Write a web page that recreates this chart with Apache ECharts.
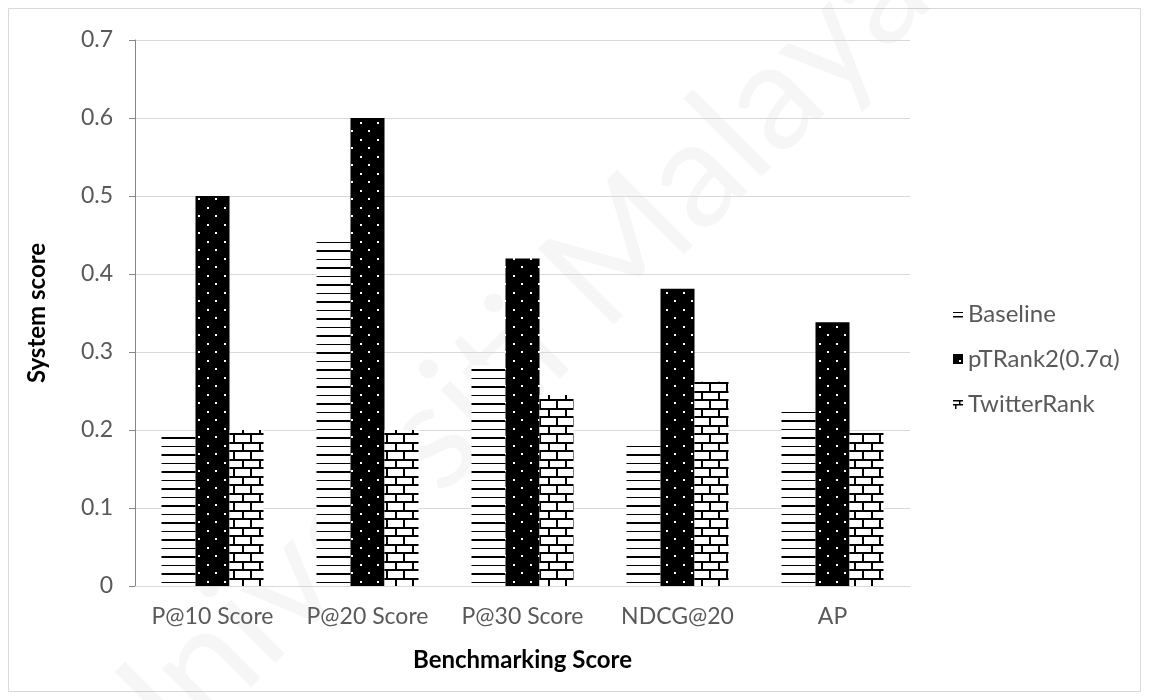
<!DOCTYPE html>
<html>
<head>
<meta charset="utf-8">
<script src="https://cdn.jsdelivr.net/npm/echarts@6/dist/echarts.min.js"></script>
<style>
  html, body { margin: 0; padding: 0; background: #ffffff; }
  #chart { width: 1149px; height: 700px; }
</style>
</head>
<body>
<div id="chart"></div>
<script>
// Benchmark categories and system scores per ranking method
const categories = ['P@10 Score', 'P@20 Score', 'P@30 Score', 'NDCG@20', 'AP'];
const baseline = [0.197, 0.445, 0.283, 0.184, 0.227];
const ptrank = [0.5, 0.6, 0.42, 0.381, 0.338];
const twitterRank = [0.2, 0.2, 0.245, 0.262, 0.196];
const seriesNames = ['Baseline', 'pTRank2(0.7\u03b1)', 'TwitterRank'];
const yTicks = { min: 0, max: 0.7, step: 0.1 };

// Small canvas tiles used as repeating fill patterns
function tile(w, h, draw) {
  const c = document.createElement('canvas');
  c.width = w; c.height = h;
  const g = c.getContext('2d');
  draw(g);
  return c;
}
// horizontal stripes, alternating thin and thick
const stripes = tile(8, 17, g => {
  g.fillStyle = '#ffffff'; g.fillRect(0, 0, 8, 17);
  g.fillStyle = '#000000';
  g.fillRect(0, 4, 8, 1);
  g.fillRect(0, 12, 8, 2);
});
// black with staggered white dots
const dots = tile(17, 17, g => {
  g.fillStyle = '#000000'; g.fillRect(0, 0, 17, 17);
  g.fillStyle = '#ffffff';
  g.fillRect(3, 3, 2, 2);
  g.fillRect(11, 11, 2, 2);
});
// brick wall
const bricks = tile(17, 17, g => {
  g.fillStyle = '#ffffff'; g.fillRect(0, 0, 17, 17);
  g.fillStyle = '#000000';
  g.fillRect(0, 0, 17, 2);
  g.fillRect(0, 8, 17, 2);
  g.fillRect(4, 0, 2, 8);
  g.fillRect(12, 8, 2, 9);
});

// Legend swatches: small fragments of each fill
const iconStripes = tile(10, 10, g => {
  g.fillStyle = '#ffffff'; g.fillRect(0, 0, 10, 10);
  g.fillStyle = '#000000';
  g.fillRect(0, 3, 10, 1);
  g.fillRect(0, 7, 10, 1.5);
});
const iconDots = tile(10, 10, g => {
  g.fillStyle = '#000000'; g.fillRect(0, 0, 10, 10);
  g.fillStyle = '#ffffff';
  g.fillRect(6, 6, 2, 2);
});
const iconBricks = tile(10, 10, g => {
  g.fillStyle = '#ffffff'; g.fillRect(0, 0, 10, 10);
  g.fillStyle = '#000000';
  g.fillRect(0, 1, 10, 1.5);
  g.fillRect(6, 1, 1.5, 4);
  g.fillRect(0, 5, 10, 1.5);
  g.fillRect(2, 5, 1.5, 5);
});
const icon = c => 'image://' + c.toDataURL();

const pattern = c => ({ image: c, repeat: 'repeat' });
const FONT = 'Lato, "Open Sans", sans-serif';

const chart = echarts.init(document.getElementById('chart'), null, { renderer: 'canvas' });

function bar(name, data, fill) {
  return {
    name: name,
    type: 'bar',
    data: data,
    barWidth: 34,
    barGap: '0%',
    itemStyle: { color: pattern(fill) }
  };
}

chart.setOption({
  animation: false,
  backgroundColor: '#ffffff',
  textStyle: { fontFamily: FONT },
  graphic: [
    {
      type: 'rect',
      z: -20,
      shape: { x: 8.5, y: 8.5, width: 1132, height: 683 },
      style: { fill: 'none', stroke: '#d9d9d9', lineWidth: 1 }
    },
    {
      type: 'text',
      z: -10,
      x: 500, y: 370,
      rotation: Math.PI / 4,
      style: {
        text: 'Universiti Malaya',
        font: '150px ' + FONT,
        fill: 'rgba(0,0,0,0.035)',
        align: 'center',
        verticalAlign: 'middle'
      }
    }
  ],
  grid: { left: 135, right: 239, top: 40, bottom: 114 },
  legend: {
    orient: 'vertical',
    left: 953,
    top: 302,
    padding: 0,
    itemWidth: 10,
    itemHeight: 10,
    itemGap: 21,
    data: [
      { name: seriesNames[0], icon: icon(iconStripes) },
      { name: seriesNames[1], icon: icon(iconDots) },
      { name: seriesNames[2], icon: icon(iconBricks) }
    ],
    textStyle: { fontFamily: FONT, fontSize: 24, color: '#595959' }
  },
  xAxis: {
    type: 'category',
    data: categories,
    name: 'Benchmarking Score',
    nameLocation: 'middle',
    nameGap: 62,
    nameTextStyle: { fontFamily: FONT, fontSize: 24, fontWeight: 'bold', color: '#000000' },
    axisLine: { lineStyle: { color: '#d9d9d9', width: 1 } },
    axisTick: { show: false },
    axisLabel: { interval: 0, fontFamily: FONT, fontSize: 23, color: '#595959', margin: 19 }
  },
  yAxis: {
    type: 'value',
    min: yTicks.min,
    max: yTicks.max,
    interval: yTicks.step,
    name: 'System score',
    nameLocation: 'middle',
    nameGap: 86,
    nameTextStyle: { fontFamily: FONT, fontSize: 24, fontWeight: 'bold', color: '#000000' },
    axisLine: { show: true, lineStyle: { color: '#868686', width: 1 } },
    axisTick: { show: true, length: 6, lineStyle: { color: '#868686' } },
    axisLabel: { fontFamily: FONT, fontSize: 23, color: '#595959', margin: 22 },
    splitLine: { lineStyle: { color: '#d9d9d9', width: 1 } }
  },
  series: [
    bar(seriesNames[0], baseline, stripes),
    bar(seriesNames[1], ptrank, dots),
    bar(seriesNames[2], twitterRank, bricks)
  ]
});
</script>
</body>
</html>
